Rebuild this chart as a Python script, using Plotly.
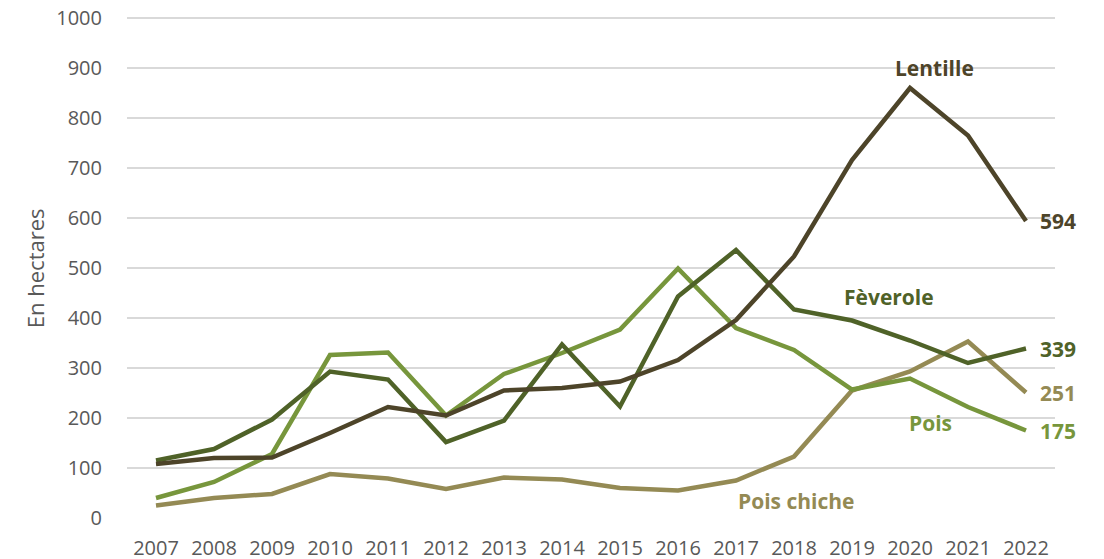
import plotly.graph_objects as go

years = [str(y) for y in range(2007, 2023)]

lentille = [108, 120, 121, 170, 222, 205, 255, 260, 273, 316, 396, 523, 716, 860, 765, 594]
feverole = [115, 138, 197, 293, 277, 152, 195, 347, 223, 443, 536, 417, 395, 355, 310, 339]
pois = [40, 72, 128, 326, 331, 205, 288, 330, 377, 499, 380, 336, 257, 279, 222, 175]
pois_chiche = [25, 40, 48, 88, 79, 58, 81, 77, 60, 55, 75, 123, 255, 293, 353, 251]

COLORS = {
    "lentille": "#4D4429",
    "feverole": "#4F6228",
    "pois": "#77963C",
    "pois_chiche": "#948A54",
    "text": "#595959",
    "grid": "#D9D9D9",
}

FONT = "Open Sans, Liberation Sans, sans-serif"

fig = go.Figure()

series = [
    ("Pois chiche", pois_chiche, COLORS["pois_chiche"]),
    ("Pois", pois, COLORS["pois"]),
    ("Fèverole", feverole, COLORS["feverole"]),
    ("Lentille", lentille, COLORS["lentille"]),
]
for name, vals, color in series:
    fig.add_trace(go.Scatter(
        x=years, y=vals, mode="lines", name=name,
        line=dict(color=color, width=4.5),
        showlegend=False,
    ))

# end-value labels (category axis -> use index positions)
last = len(years) - 1
for name, vals, color in series:
    fig.add_annotation(
        x=last, y=vals[-1], text=f"<b>{vals[-1]}</b>",
        xanchor="left", yanchor="middle", xshift=12, showarrow=False,
        font=dict(color=color, size=21, family=FONT),
    )

# series name labels
for text, xi, y, color in [
    ("Lentille", 13.43, 900, COLORS["lentille"]),
    ("Fèverole", 12.63, 442, COLORS["feverole"]),
    ("Pois", 13.36, 190, COLORS["pois"]),
    ("Pois chiche", 11.04, 34, COLORS["pois_chiche"]),
]:
    fig.add_annotation(
        x=xi, y=y, text=f"<b>{text}</b>", showarrow=False,
        xanchor="center", yanchor="middle",
        font=dict(color=color, size=21, family=FONT),
    )

# y axis title as a rotated annotation for exact placement
fig.add_annotation(
    xref="paper", yref="paper", x=-0.099, y=0.495,
    text="En hectares", textangle=-90, showarrow=False,
    xanchor="center", yanchor="middle",
    font=dict(size=22, color=COLORS["text"], family=FONT),
)

# page body has an 8px margin, so the figure is shrunk by that much
fig.update_layout(
    width=1096, height=551,
    paper_bgcolor="white", plot_bgcolor="white",
    margin=dict(l=119, r=49, t=5, b=41),
    font=dict(family=FONT, color=COLORS["text"], size=20),
    xaxis=dict(
        type="category", range=[-0.5, 15.5], automargin=False,
        showgrid=False, zeroline=False, showline=False,
        ticklabelstandoff=16,
        tickfont=dict(size=20, color=COLORS["text"]),
    ),
    yaxis=dict(
        range=[0, 1010], tickvals=list(range(0, 1001, 100)), automargin=False,
        gridcolor=COLORS["grid"], gridwidth=1.5,
        zeroline=False, showline=False,
        ticklabelstandoff=24, ticklabeloverflow="allow",
        tickfont=dict(size=20, color=COLORS["text"]),
    ),
)

fig.write_html("out.html")
